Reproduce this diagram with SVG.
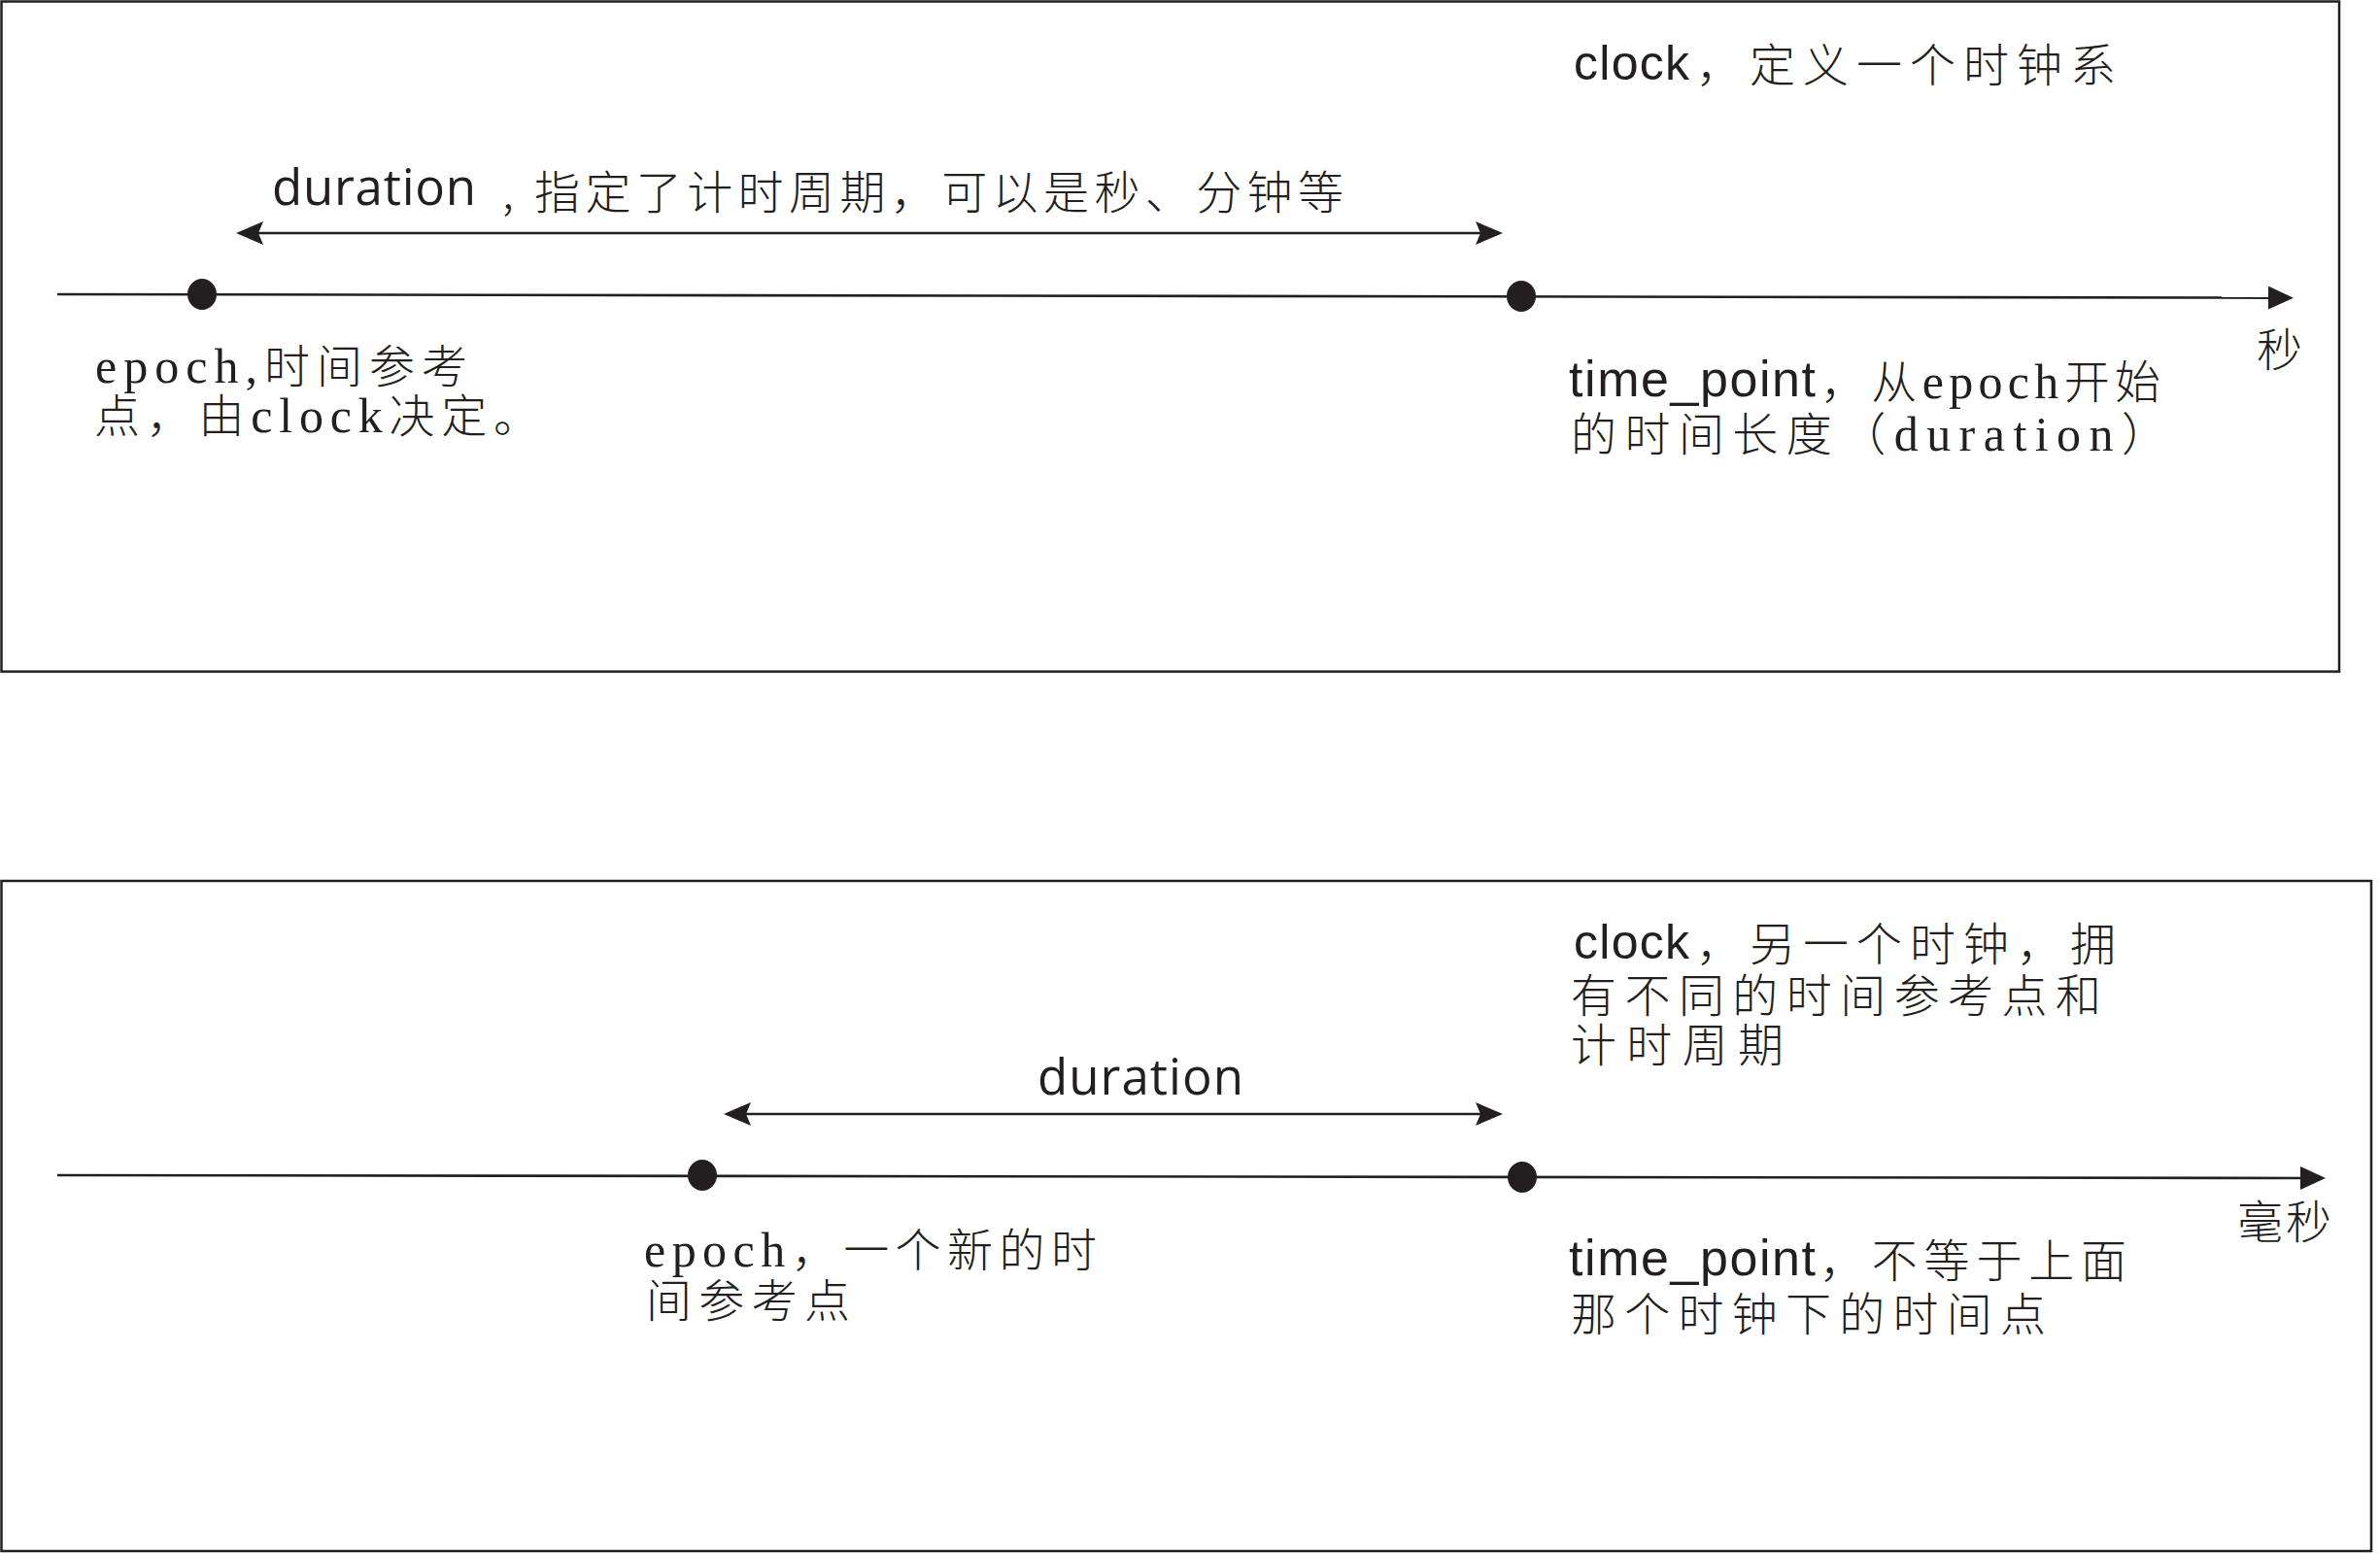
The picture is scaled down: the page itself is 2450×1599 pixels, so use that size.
<svg xmlns="http://www.w3.org/2000/svg" width="2450" height="1599" viewBox="0 0 2450 1599">
<style>
.box{fill:#fff;stroke:#231f20;stroke-width:2.5}
.ax{fill:none;stroke:#231f20;stroke-width:2.6}
.dot{fill:#231f20}
text{fill:#231f20}
.osans{font-family:"Open Sans","Liberation Sans",sans-serif;font-size:51px}
.sans{font-family:"Liberation Sans",Arial,sans-serif}
.cjk{font-family:"Noto Sans CJK SC",sans-serif;font-size:47px;font-weight:300}
.serif{font-family:"Liberation Serif","Noto Sans CJK SC",serif;font-size:50px;font-weight:400}
</style>
<defs>
<marker id="axArrow" viewBox="0 0 26 24" refX="5" refY="12" markerWidth="26" markerHeight="24" markerUnits="userSpaceOnUse" orient="auto">
<path d="M0,0 L26,12 L0,24 Z" fill="#231f20"/>
</marker>
<marker id="durArrow" viewBox="0 0 28 24" refX="6" refY="12" markerWidth="28" markerHeight="24" markerUnits="userSpaceOnUse" orient="auto-start-reverse">
<path d="M0,0 L28,12 L0,24 L5,12 Z" fill="#231f20"/>
</marker>
</defs>
<rect width="2450" height="1599" fill="#fff"/>
<g id="panel-top">
<rect class="box" x="1.5" y="1.5" width="2406.5" height="690"/>
</g>
<g id="panel-bottom">
<rect class="box" x="1.5" y="907" width="2439.5" height="690"/>
</g>
<g id="connectors">
<path class="ax" d="M59,303 L2340,306.6" marker-end="url(#axArrow)"/>
<path class="ax" d="M265,240 L1525,240" marker-start="url(#durArrow)" marker-end="url(#durArrow)"/>
<path class="ax" d="M59,1210 L2373,1213" marker-end="url(#axArrow)"/>
<path class="ax" d="M767,1147 L1525,1147" marker-start="url(#durArrow)" marker-end="url(#durArrow)"/>
</g>
<g id="epoch-top">
<ellipse class="dot" cx="208" cy="303" rx="15" ry="16"/>
<text class="cjk" x="98" y="394" textLength="383"><tspan class="serif">epoch,</tspan>时间参考</text>
<text class="cjk" x="97" y="445" textLength="458">点，由<tspan class="serif">clock</tspan>决定。</text>
</g>
<g id="timepoint-top">
<ellipse class="dot" cx="1566" cy="305" rx="15" ry="16"/>
<text class="sans" x="1615" y="408" font-size="52" textLength="254">time_point</text>
<text class="cjk" x="1874" y="410" textLength="350">，从<tspan class="serif">epoch</tspan>开始</text>
<text class="cjk" x="1617" y="464" textLength="614">的时间长度（<tspan class="serif">duration</tspan>）</text>
</g>
<g id="duration-top">
<text class="osans" x="280" y="211" textLength="210">duration</text>
<text class="cjk" x="517" y="215" font-size="44">,</text>
<text class="cjk" x="550" y="215" font-size="44" textLength="833">指定了计时周期，可以是秒、分钟等</text>
</g>
<g id="clock-top">
<text class="sans" x="1620" y="82" font-size="50" textLength="119">clock</text>
<text class="cjk" x="1746" y="84" textLength="432">，定义一个时钟系</text>
</g>
<g id="unit-top">
<text class="cjk" x="2323" y="377">秒</text>
</g>
<g id="epoch-bottom">
<ellipse class="dot" cx="723" cy="1210" rx="15" ry="16"/>
<text class="cjk" x="663" y="1304" textLength="466"><tspan class="serif">epoch</tspan>，一个新的时</text>
<text class="cjk" x="665" y="1356" textLength="210">间参考点</text>
</g>
<g id="timepoint-bottom">
<ellipse class="dot" cx="1567" cy="1212" rx="15" ry="16"/>
<text class="sans" x="1615" y="1313" font-size="52" textLength="254">time_point</text>
<text class="cjk" x="1873" y="1315" textLength="316">，不等于上面</text>
<text class="cjk" x="1617" y="1370" textLength="489">那个时钟下的时间点</text>
</g>
<g id="duration-bottom">
<text class="osans" x="1068" y="1127" textLength="212">duration</text>
</g>
<g id="clock-bottom">
<text class="sans" x="1620" y="987" font-size="50" textLength="119">clock</text>
<text class="cjk" x="1746" y="989" textLength="432">，另一个时钟，拥</text>
<text class="cjk" x="1617" y="1042" textLength="546">有不同的时间参考点和</text>
<text class="cjk" x="1617" y="1093" textLength="219">计时周期</text>
</g>
<g id="unit-bottom">
<text class="cjk" x="2303" y="1275" textLength="97">毫秒</text>
</g>
</svg>
